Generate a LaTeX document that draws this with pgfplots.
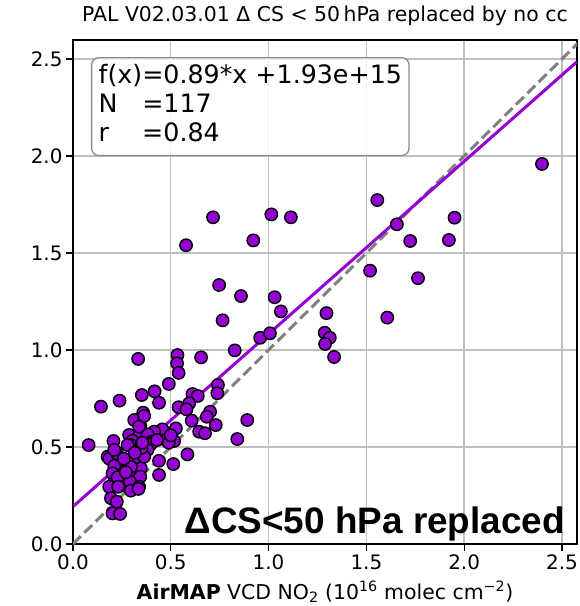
\documentclass[border=0pt]{standalone}
\usepackage{fontspec}
\setmainfont{DejaVu Sans}
\newfontfamily\arialfont{Liberation Sans}
\usepackage{pgfplots}
\usepackage{pgfplotstable}
\pgfplotsset{compat=1.18}
\definecolor{dviolet}{HTML}{9400D3}

\pgfplotstableread{
x y
2.398 1.959
1.951 1.682
1.922 1.567
1.556 1.773
1.656 1.648
1.724 1.562
1.519 1.409
1.764 1.370
1.607 1.167
1.296 1.190
1.287 1.089
1.313 1.063
1.289 1.031
1.335 0.964
1.014 1.699
1.114 1.684
0.716 1.684
0.922 1.565
0.578 1.540
0.747 1.335
0.859 1.278
1.031 1.272
1.063 1.199
0.765 1.153
0.957 1.063
1.007 1.086
0.827 0.998
0.655 0.962
0.534 0.974
0.532 0.931
0.540 0.882
0.333 0.954
0.490 0.825
0.741 0.820
0.738 0.777
0.417 0.787
0.352 0.768
0.238 0.739
0.143 0.708
0.440 0.728
0.611 0.773
0.638 0.763
0.594 0.725
0.540 0.705
0.580 0.694
0.701 0.682
0.684 0.656
0.359 0.677
0.347 0.648
0.313 0.639
0.607 0.636
0.730 0.613
0.891 0.639
0.344 0.608
0.526 0.596
0.457 0.591
0.645 0.579
0.675 0.571
0.415 0.579
0.287 0.562
0.338 0.557
0.381 0.565
0.840 0.541
0.207 0.531
0.304 0.532
0.401 0.527
0.474 0.536
0.517 0.531
0.080 0.510
0.296 0.510
0.347 0.502
0.398 0.515
0.490 0.522
0.177 0.450
0.185 0.440
0.224 0.468
0.364 0.468
0.381 0.485
0.211 0.485
0.440 0.429
0.513 0.412
0.253 0.419
0.211 0.402
0.330 0.419
0.282 0.390
0.347 0.390
0.202 0.364
0.245 0.351
0.296 0.351
0.344 0.347
0.440 0.356
0.207 0.313
0.253 0.304
0.292 0.321
0.338 0.295
0.185 0.295
0.296 0.275
0.194 0.236
0.224 0.218
0.202 0.158
0.241 0.155
0.585 0.462
0.364 0.450
0.296 0.398
0.228 0.344
0.335 0.284
0.231 0.295
0.350 0.495
0.279 0.510
0.355 0.522
0.429 0.536
0.338 0.605
0.364 0.660
0.500 0.560
0.260 0.440
0.316 0.470
0.270 0.370
}\scatterdata

\begin{document}
\begin{tikzpicture}
\begin{axis}[
  name=ax,
  width=504bp, height=504bp, scale only axis,
  xmin=0, xmax=2.577, ymin=0, ymax=2.598,
  xtick={0,0.5,1,1.5,2,2.5},
  ytick={0,0.5,1,1.5,2,2.5},
  xticklabels={0.0,0.5,1.0,1.5,2.0,2.5},
  yticklabels={0.0,0.5,1.0,1.5,2.0,2.5},
  tick label style={font=\fontsize{20}{24}\selectfont},
  title={PAL V02.03.01 Δ CS < 50\,hPa replaced by no cc},
  title style={font=\fontsize{20.5}{24}\selectfont, at={(0.5,1)}, anchor=base, yshift=13bp},
  xlabel={\textbf{AirMAP} VCD NO\textsubscript{2} (10\textsuperscript{16} molec cm\textsuperscript{−2})},
  xlabel style={font=\fontsize{20.5}{24}\selectfont, at={(0.5,0)}, anchor=base, yshift=-55bp},
  grid=major,
  major grid style={line width=1.4bp, color=black!25},
  axis line style={line width=1.2bp},
  tick align=outside, tick pos=left, major tick length=7bp,
  every tick/.style={black, line width=1.2bp},
]
\addplot[color=gray, line width=3bp, dash pattern=on 11bp off 5bp] coordinates {(0,0) (2.6,2.6)};
\addplot[color=dviolet, line width=3bp] coordinates {(0,0.193) (2.577,2.486)};
\addplot[only marks, mark=*, mark size=6.2bp, mark options={fill=dviolet, draw=black, line width=1.4bp}] table[x=x,y=y] {\scatterdata};
\node[anchor=north west, draw=black!45, line width=1.3bp, rounded corners=7bp, fill=white, fill opacity=0.8, text opacity=1, inner xsep=7bp, inner ysep=5.5bp, font=\fontsize{25.4}{29}\selectfont] at (rel axis cs:0.0357,0.966) {\begin{tabular}{@{}l@{}l@{}}f(x)&=0.89*x +1.93e+15\\ N&=117\\ r&=0.84\end{tabular}};
\node[anchor=base east, inner sep=0pt, font=\fontsize{37}{40}\selectfont\arialfont\bfseries] at (rel axis cs:0.976,0.0218) {ΔCS<50 hPa replaced};
\end{axis}
\pgfresetboundingbox
\path ([shift={(-73bp,-62bp)}]ax.south west) rectangle ([shift={(3bp,40bp)}]ax.north east);
\end{tikzpicture}
\end{document}
